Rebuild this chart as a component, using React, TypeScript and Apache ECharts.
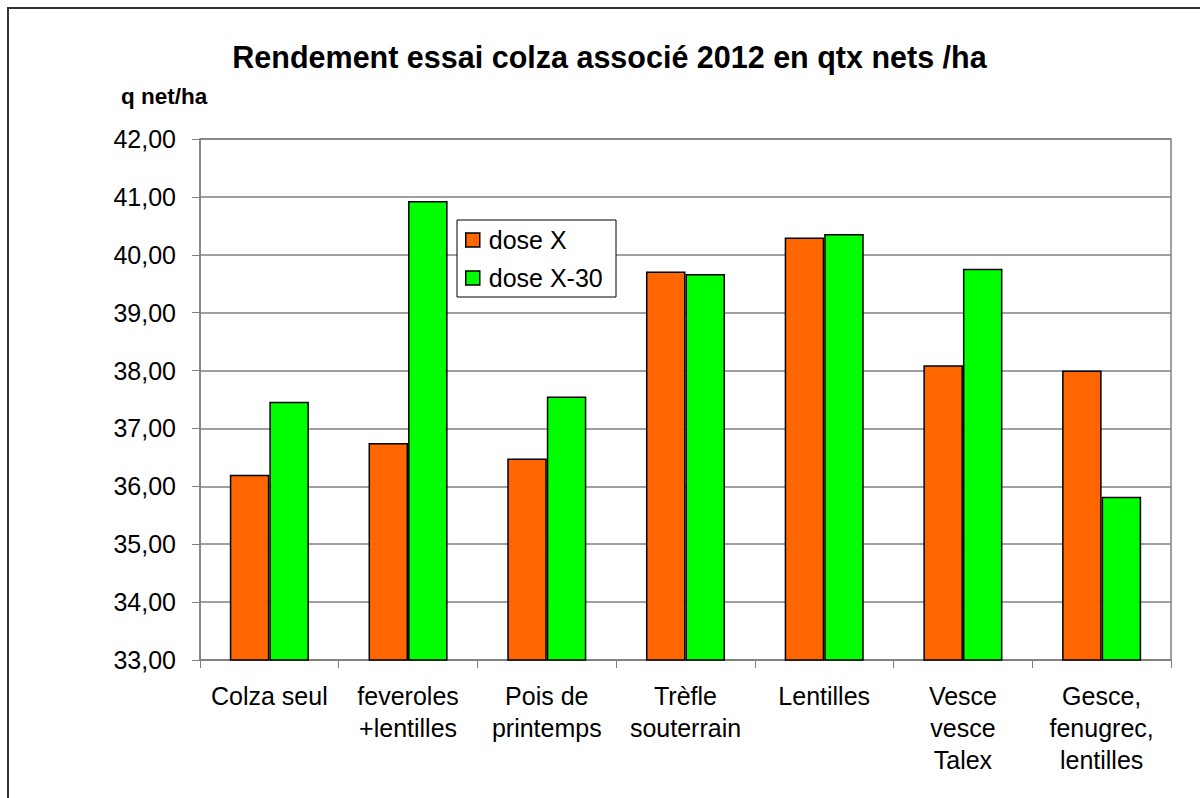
import React, { useEffect, useRef } from "react";
import * as echarts from "echarts";

const chartTitle = "Rendement essai colza associé 2012 en qtx nets /ha";
const yUnit = "q net/ha";
const categories = [
  "Colza seul",
  "feveroles\n+lentilles",
  "Pois de\nprintemps",
  "Trèfle\nsouterrain",
  "Lentilles",
  "Vesce\nvesce\nTalex",
  "Gesce,\nfenugrec,\nlentilles",
];
const seriesNames = ["dose X", "dose X-30"];
const doseX = [36.2, 36.75, 36.48, 39.71, 40.3, 38.09, 38.0];
const doseX30 = [37.46, 40.93, 37.55, 39.67, 40.36, 39.76, 35.82];
const yMin = 33;
const yMax = 42;
const yStep = 1;

const FONT = "Liberation Sans, Arial, sans-serif";

export default function App() {
  const ref = useRef<HTMLDivElement>(null);
  useEffect(() => {
    if (!ref.current) return;
    const chart = echarts.init(ref.current, null, { renderer: "svg" });
    chart.setOption({
      animation: false,
      backgroundColor: "#ffffff",
      textStyle: { fontFamily: FONT },
      graphic: [
        {
          type: "rect",
          shape: { x: 8, y: 8, width: 1210, height: 810 },
          style: { fill: "none", stroke: "#333333", lineWidth: 2 },
          z: 0,
          silent: true,
        },
        {
          type: "text",
          x: 609.5,
          y: 57,
          style: {
            text: chartTitle,
            font: `bold 30.5px ${FONT}`,
            fill: "#000",
            textAlign: "center",
            textVerticalAlign: "middle",
          },
        },
        {
          type: "text",
          x: 121,
          y: 96,
          style: {
            text: yUnit,
            font: `bold 22.5px ${FONT}`,
            fill: "#000",
            textAlign: "left",
            textVerticalAlign: "middle",
          },
        },
        {
          type: "rect",
          shape: { x: 457, y: 220, width: 159, height: 77 },
          style: { fill: "#ffffff", stroke: "#000000", lineWidth: 1 },
          z: 50,
        },
      ],
      legend: {
        show: true,
        orient: "vertical",
        left: 465,
        top: 227,
        padding: 0,
        itemWidth: 14,
        itemHeight: 14,
        itemGap: 12,
        icon: "rect",
        z: 60,
        itemStyle: { borderColor: "#000", borderWidth: 1.5 },
        textStyle: { fontSize: 25, lineHeight: 26, color: "#000", fontFamily: FONT, padding: [0, 0, 0, 4] },
        data: seriesNames,
      },
      grid: {
        left: 200,
        right: 29,
        top: 139,
        bottom: 138,
        show: true,
        borderColor: "#808080",
        borderWidth: 1.5,
        backgroundColor: "transparent",
      },
      xAxis: {
        type: "category",
        data: categories,
        axisLine: { show: true, lineStyle: { color: "#808080", width: 1.5 } },
        axisTick: { show: true, length: 8, lineStyle: { color: "#808080", width: 1 } },
        axisLabel: {
          fontSize: 25,
          lineHeight: 32,
          color: "#000",
          margin: 20,
          interval: 0,
          fontFamily: FONT,
        },
        splitLine: { show: false },
      },
      yAxis: {
        type: "value",
        min: yMin,
        max: yMax,
        interval: yStep,
        axisLine: { show: true, lineStyle: { color: "#808080", width: 1.5 } },
        axisTick: { show: true, length: 8, lineStyle: { color: "#808080", width: 1 } },
        axisLabel: {
          fontSize: 25,
          color: "#000",
          margin: 24,
          fontFamily: FONT,
          formatter: (v: number) => v.toFixed(2).replace(".", ","),
        },
        splitLine: { show: true, lineStyle: { color: "#808080", width: 1.5 } },
      },
      series: [
        {
          name: seriesNames[0],
          type: "bar",
          data: doseX,
          barGap: "0%",
          barCategoryGap: "43%",
          itemStyle: { color: "#FF6600", borderColor: "#000", borderWidth: 1.5 },
        },
        {
          name: seriesNames[1],
          type: "bar",
          data: doseX30,
          barGap: "0%",
          barCategoryGap: "43%",
          itemStyle: { color: "#00FF00", borderColor: "#000", borderWidth: 1.5 },
        },
      ],
    });
    return () => chart.dispose();
  }, []);
  return (
    <div
      ref={ref}
      style={{ position: "absolute", left: 0, top: 0, width: 1200, height: 798 }}
    />
  );
}
